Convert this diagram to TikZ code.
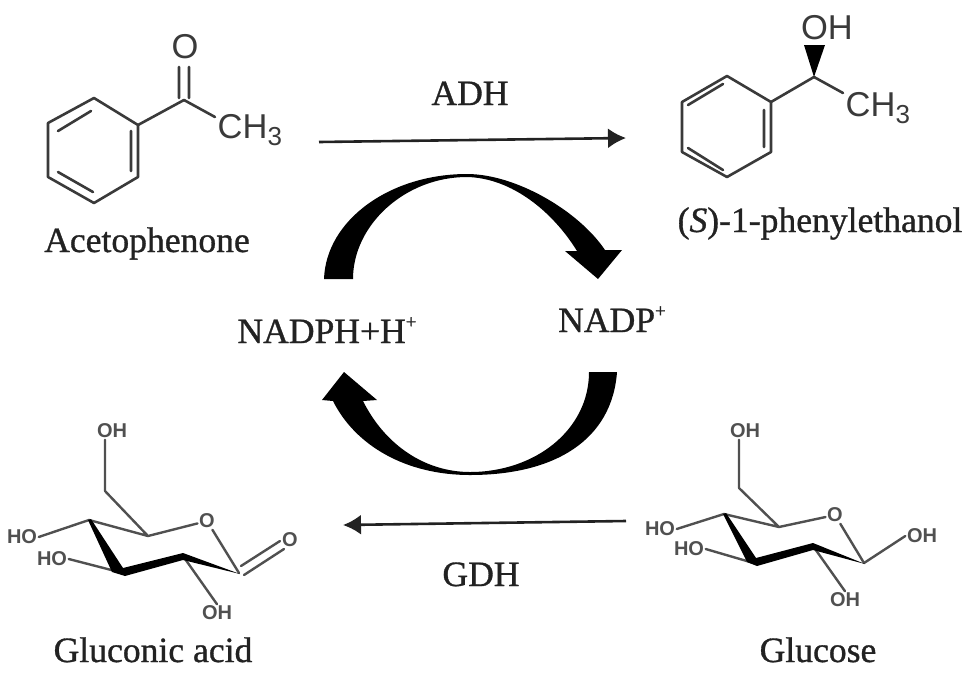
\documentclass[tikz,border=0pt]{standalone}
\usepackage{fontspec}
\setmainfont{Liberation Serif}
\setsansfont{Liberation Sans}
\newfontfamily\serifheavy[FakeBold=0.9,ItalicFont={Liberation Serif Italic},ItalicFeatures={FakeBold=0.9}]{Liberation Serif}
\usetikzlibrary{arrows.meta}
\definecolor{ink}{HTML}{222222}
\definecolor{bond}{HTML}{3A3A3A}
\definecolor{sbond}{HTML}{505050}
\newcommand{\subthree}{\raisebox{-0.2em}{\fontsize{26}{26}\selectfont 3}}
\newcommand{\plusup}{\raisebox{0.42em}{\fontsize{19}{19}\selectfont +}}
\tikzset{
  lab/.style={inner sep=0pt,text=ink,anchor=base,font=\serifheavy\fontsize{35.6}{36}\selectfont},
  atom/.style={inner sep=1.5pt,text=bond,font=\sffamily\fontsize{34.5}{35}\selectfont},
  satom/.style={inner sep=1.5pt,text=sbond,font=\sffamily\bfseries\fontsize{20}{21}\selectfont},
  bnd/.style={draw=bond,line width=2.6pt,line cap=round,line join=round},
  sbnd/.style={draw=sbond,line width=2.4pt,line cap=round,line join=round},
  react/.style={draw=ink,line width=2.6pt,-{Latex[length=18pt,width=20pt]}}
}
\begin{document}
\begin{tikzpicture}[x=1pt,y=-1pt]
\useasboundingbox (0,0) rectangle (974,678);
% ---- acetophenone
\foreach \n/\x/\y in {a1/94/98,a2/138/125,a3/138/177,a4/94/203,a5/48/177,a6/48/123,
  a7/58/131,a8/91/111,a9/131/131,a10/131/171,a11/58/172,a12/93/192,ac/184/100,
  ad1/179/98,ad2/179/67,ad3/189/98,ad4/189/67,aE/215/117}
  {\coordinate (\n) at (\x,\y);}
\node[atom] (aO) at (185,47) {O};
\node[atom,anchor=west] (aCH) at (216,130) {CH\subthree};
\draw[bnd] (a1)--(a2)--(a3)--(a4)--(a5)--(a6)--cycle;
\draw[bnd] (a7)--(a8) (a9)--(a10) (a11)--(a12) (a2)--(ac) (ad1)--(ad2) (ad3)--(ad4);
\draw[bnd] (ac)--(aE);
\node[lab] (acet) at (147,252) {Acetophenone};
% ---- phenylethanol
\foreach \n/\x/\y in {b1/727/76,b2/771/102,b3/771/152,b4/727/177,b5/682/152,b6/682/102,
  b7/688/105,b8/723/84,b9/764/110,b10/764/147,b11/688/148,b12/723/170,bc/814/77,
  bw1/804/45,bw2/825/45,bE/843/93}
  {\coordinate (\n) at (\x,\y);}
\node[atom] (bOH) at (827,28) {OH};
\node[atom,anchor=west] (bCH) at (844,108) {CH\subthree};
\draw[bnd] (b1)--(b2)--(b3)--(b4)--(b5)--(b6)--cycle;
\draw[bnd] (b7)--(b8) (b9)--(b10) (b11)--(b12) (b2)--(bc);
\draw[bnd] (bc)--(bE);
\fill[black] (bc)--(bw1)--(bw2)--cycle;
\node[lab] (phen) at (820,232) {(\textit{S})-1-phenylethanol};
% ---- reaction arrows
\coordinate (r1) at (319,142); \coordinate (r2) at (626,138);
\coordinate (r3) at (626,521); \coordinate (r4) at (343,525);
\draw[react] (r1)--(r2);
\draw[react] (r3)--(r4);
\node[lab] (adh) at (470,105) {ADH};
\node[lab] (gdh) at (481,586) {GDH};
\node[lab] (nadph) at (327,343) {NADPH+H\plusup};
\node[lab] (nadp) at (612,332) {NADP\plusup};
% ---- cycle arrows
\fill[black] (324,279) .. controls (326,220) and (390,174) .. (467,174)
  .. controls (515,174) and (578,210) .. (605,250) -- (622,250) -- (598,279) -- (565,251) -- (577,251)
  .. controls (553,212) and (512,178) .. (467,177)
  .. controls (405,177) and (353,225) .. (353,279) -- cycle;
\fill[black] (617,372) .. controls (612,440) and (555,475) .. (470,475)
  .. controls (405,475) and (355,445) .. (333,401) -- (322,400) -- (344,372) -- (377,400) -- (363,401)
  .. controls (385,445) and (425,472) .. (470,472)
  .. controls (535,472) and (589,430) .. (589,372) -- cycle;
% ---- gluconic acid
\foreach \n/\x/\y in {g1/239/573,g2/183/556,g3/123/573,g4/89/520,g5/148/536,g6/105/491,
  gd1/241/566,gd2/280/541,gd3/244/575,gd4/284/549}
  {\coordinate (\n) at (\x,\y);}
\node[satom] (gO) at (207,521) {O};
\node[satom] (gOd) at (290,540) {O};
\node[satom] (gOHt) at (112,431) {OH};
\node[satom] (gOHb) at (217,613) {OH};
\node[satom] (gHOa) at (22,537) {HO};
\node[satom] (gHOb) at (52,559) {HO};
\draw[sbnd] (g6)--(g6|-gOHt.south) (g6)--(g5) (g4)--(g5)--(gO) (gO)--(g1);
\draw[sbnd] (g4)--(gHOa.east) (g3)--(gHOb.east) (g2)--(gOHb.north);
\draw[sbnd] (gd1)--(gd2) (gd3)--(gd4);
\fill[black] (88,520) -- (112,572) -- (125,576) -- (183,560) -- (240,574) -- (183,553) -- (123,568) -- (91,519) -- cycle;
\node[lab] (glua) at (153,662) {Gluconic acid};
% ---- glucose
\foreach \n/\x/\y in {h1/864/563,h2/813/546,h3/757/564,h4/724/514,h5/779/527,h6/739/488}
  {\coordinate (\n) at (\x,\y);}
\node[satom] (hO) at (835,515) {O};
\node[satom] (hOHt) at (745,431) {OH};
\node[satom] (hOHr) at (922,536) {OH};
\node[satom] (hOHb) at (845,600) {OH};
\node[satom] (hHOa) at (660,529) {HO};
\node[satom] (hHOb) at (689,549) {HO};
\draw[sbnd] (h6)--(h6|-hOHt.south) (h6)--(h5) (h4)--(h5)--(hO) (hO)--(h1);
\draw[sbnd] (h4)--(hHOa.east) (h3)--(hHOb.east) (h2)--(hOHb.north) (h1)--(hOHr.west);
\fill[black] (723,514) -- (747,562) -- (757,566) -- (813,550) -- (865,564) -- (813,543) -- (756,558) -- (726,513) -- cycle;
\node[lab] (gluc) at (818,662) {Glucose};
\end{tikzpicture}
\end{document}
